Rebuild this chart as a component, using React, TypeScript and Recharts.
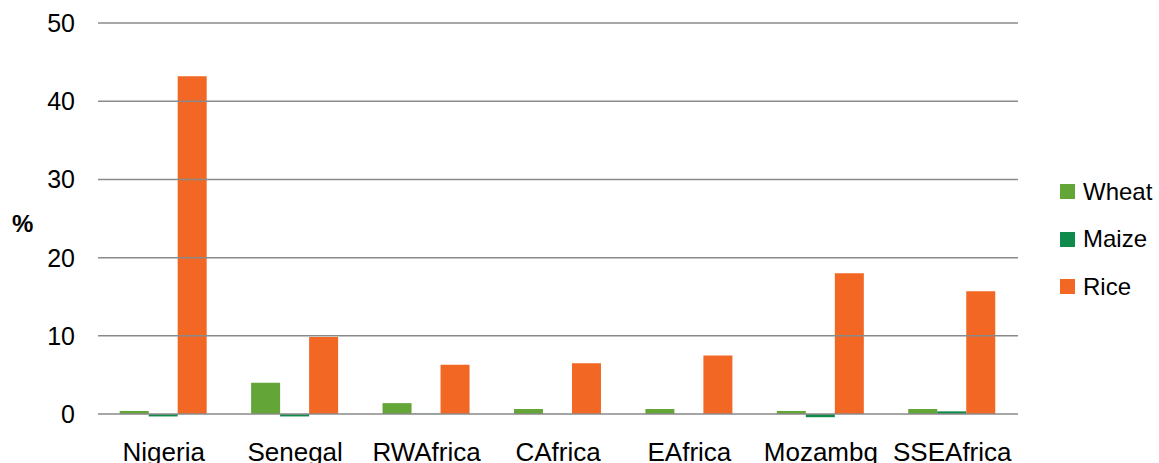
import { BarChart, Bar, XAxis, YAxis, ReferenceLine } from "recharts";

// Categories and series values (% change)
const countries = ["Nigeria", "Senegal", "RWAfrica", "CAfrica", "EAfrica", "Mozambq", "SSEAfrica"];
const wheat = [0.4, 4.0, 1.4, 0.65, 0.65, 0.4, 0.65];
const maize = [-0.3, -0.3, 0.05, 0.02, 0.02, -0.4, 0.35];
const rice = [43.2, 9.85, 6.3, 6.5, 7.5, 18.0, 15.7];
const yTicks = [0, 10, 20, 30, 40, 50];

const SERIES = [
  { key: "wheat", name: "Wheat", color: "#63A537" },
  { key: "maize", name: "Maize", color: "#0F8A4A" },
  { key: "rice", name: "Rice", color: "#F26724" },
];

const data = countries.map((c, i) => ({
  country: c,
  wheat: wheat[i],
  maize: maize[i],
  rice: rice[i],
}));

const FONT = "'Liberation Sans', Arial, sans-serif";

function SideLegend() {
  return (
    <div style={{ position: "absolute", left: 1060, top: 168, fontFamily: FONT }}>
      {SERIES.map((s) => (
        <div
          key={s.key}
          style={{ display: "flex", alignItems: "center", height: 47.5 }}
        >
          <span
            style={{
              display: "inline-block",
              width: 15,
              height: 15,
              backgroundColor: s.color,
              marginRight: 8,
            }}
          />
          <span style={{ fontSize: 24, color: "#000" }}>{s.name}</span>
        </div>
      ))}
    </div>
  );
}

function PercentLabel() {
  return (
    <text
      x={12}
      y={232}
      fontFamily={FONT}
      fontSize={24}
      fontWeight="bold"
      fill="#000"
    >
      %
    </text>
  );
}

export default function App() {
  return (
    <div style={{ position: "absolute", left: 0, top: 0, width: 1159, height: 463, background: "#fff" }}>
      <BarChart
        width={1159}
        height={463}
        data={data}
        margin={{ top: 23, right: 141, bottom: 0, left: 0 }}
        barCategoryGap="16.5%"
        barGap={0}
      >
        <XAxis
          dataKey="country"
          height={45}
          axisLine={false}
          tickLine={false}
          tickSize={0}
          tickMargin={25}
          tick={{ fontSize: 26, fill: "#000", fontFamily: FONT }}
          interval={0}
        />
        <YAxis
          width={98}
          domain={[-0.5, 50]}
          ticks={yTicks}
          allowDataOverflow
          axisLine={false}
          tickLine={false}
          tickSize={0}
          tickMargin={23}
          tick={{ fontSize: 25, fill: "#000", fontFamily: FONT }}
          label={<PercentLabel />}
        />
        {/* gridlines at the labelled ticks only */}
        {yTicks.map((t) => (
          <ReferenceLine key={t} y={t} stroke="#8a8a8a" strokeWidth={1.5} />
        ))}
        {SERIES.map((s) => (
          <Bar
            key={s.key}
            dataKey={s.key}
            name={s.name}
            fill={s.color}
            isAnimationActive={false}
          />
        ))}
      </BarChart>
      <SideLegend />
    </div>
  );
}
